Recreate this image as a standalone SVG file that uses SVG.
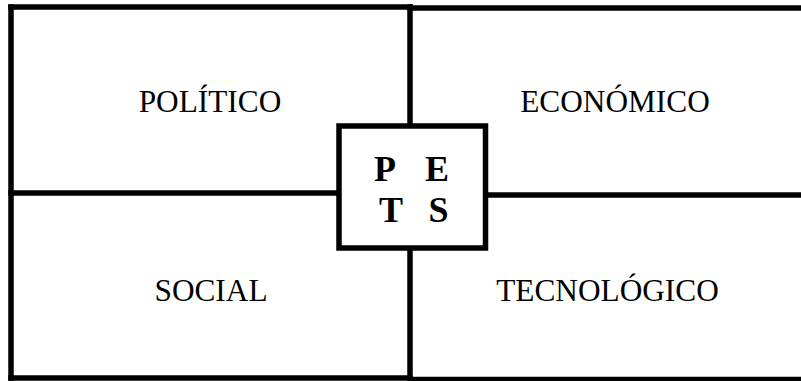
<svg xmlns="http://www.w3.org/2000/svg" width="801" height="381" viewBox="0 0 801 381">
<style>
.ln{stroke:#000;stroke-width:5.5;fill:none;stroke-linecap:square}
.lbl{font-family:"Liberation Serif","Times New Roman",serif;font-size:31.3px;fill:#000;text-anchor:middle}
.big{font-family:"Liberation Serif","Times New Roman",serif;font-size:36px;font-weight:bold;fill:#000;text-anchor:middle}
</style>
<rect width="801" height="381" fill="#fff"/>
<g id="connectors">
<line class="ln" x1="11" y1="7" x2="410" y2="7"/>
<line class="ln" x1="410" y1="8" x2="805" y2="8"/>
<line class="ln" x1="11" y1="7" x2="11" y2="378"/>
<line class="ln" x1="11" y1="378" x2="410" y2="378"/>
<line class="ln" x1="410" y1="379.5" x2="805" y2="379.5"/>
<line class="ln" x1="410" y1="7" x2="410" y2="385"/>
<line class="ln" x1="11" y1="193" x2="339" y2="193"/>
<line class="ln" x1="485" y1="195" x2="805" y2="195"/>
</g>
<g id="politico"><text class="lbl" x="210" y="112">POLÍTICO</text></g>
<g id="economico"><text class="lbl" x="615" y="112">ECONÓMICO</text></g>
<g id="social"><text class="lbl" x="211" y="301">SOCIAL</text></g>
<g id="tecnologico"><text class="lbl" x="607.5" y="301">TECNOLÓGICO</text></g>
<g id="pets">
<rect x="339" y="126" width="146.5" height="122" fill="#fff" stroke="#000" stroke-width="5.5"/>
<text class="big" x="385" y="180.5">P</text>
<text class="big" x="437" y="180.5">E</text>
<text class="big" x="391" y="222">T</text>
<text class="big" x="438.5" y="222">S</text>
</g>
</svg>
